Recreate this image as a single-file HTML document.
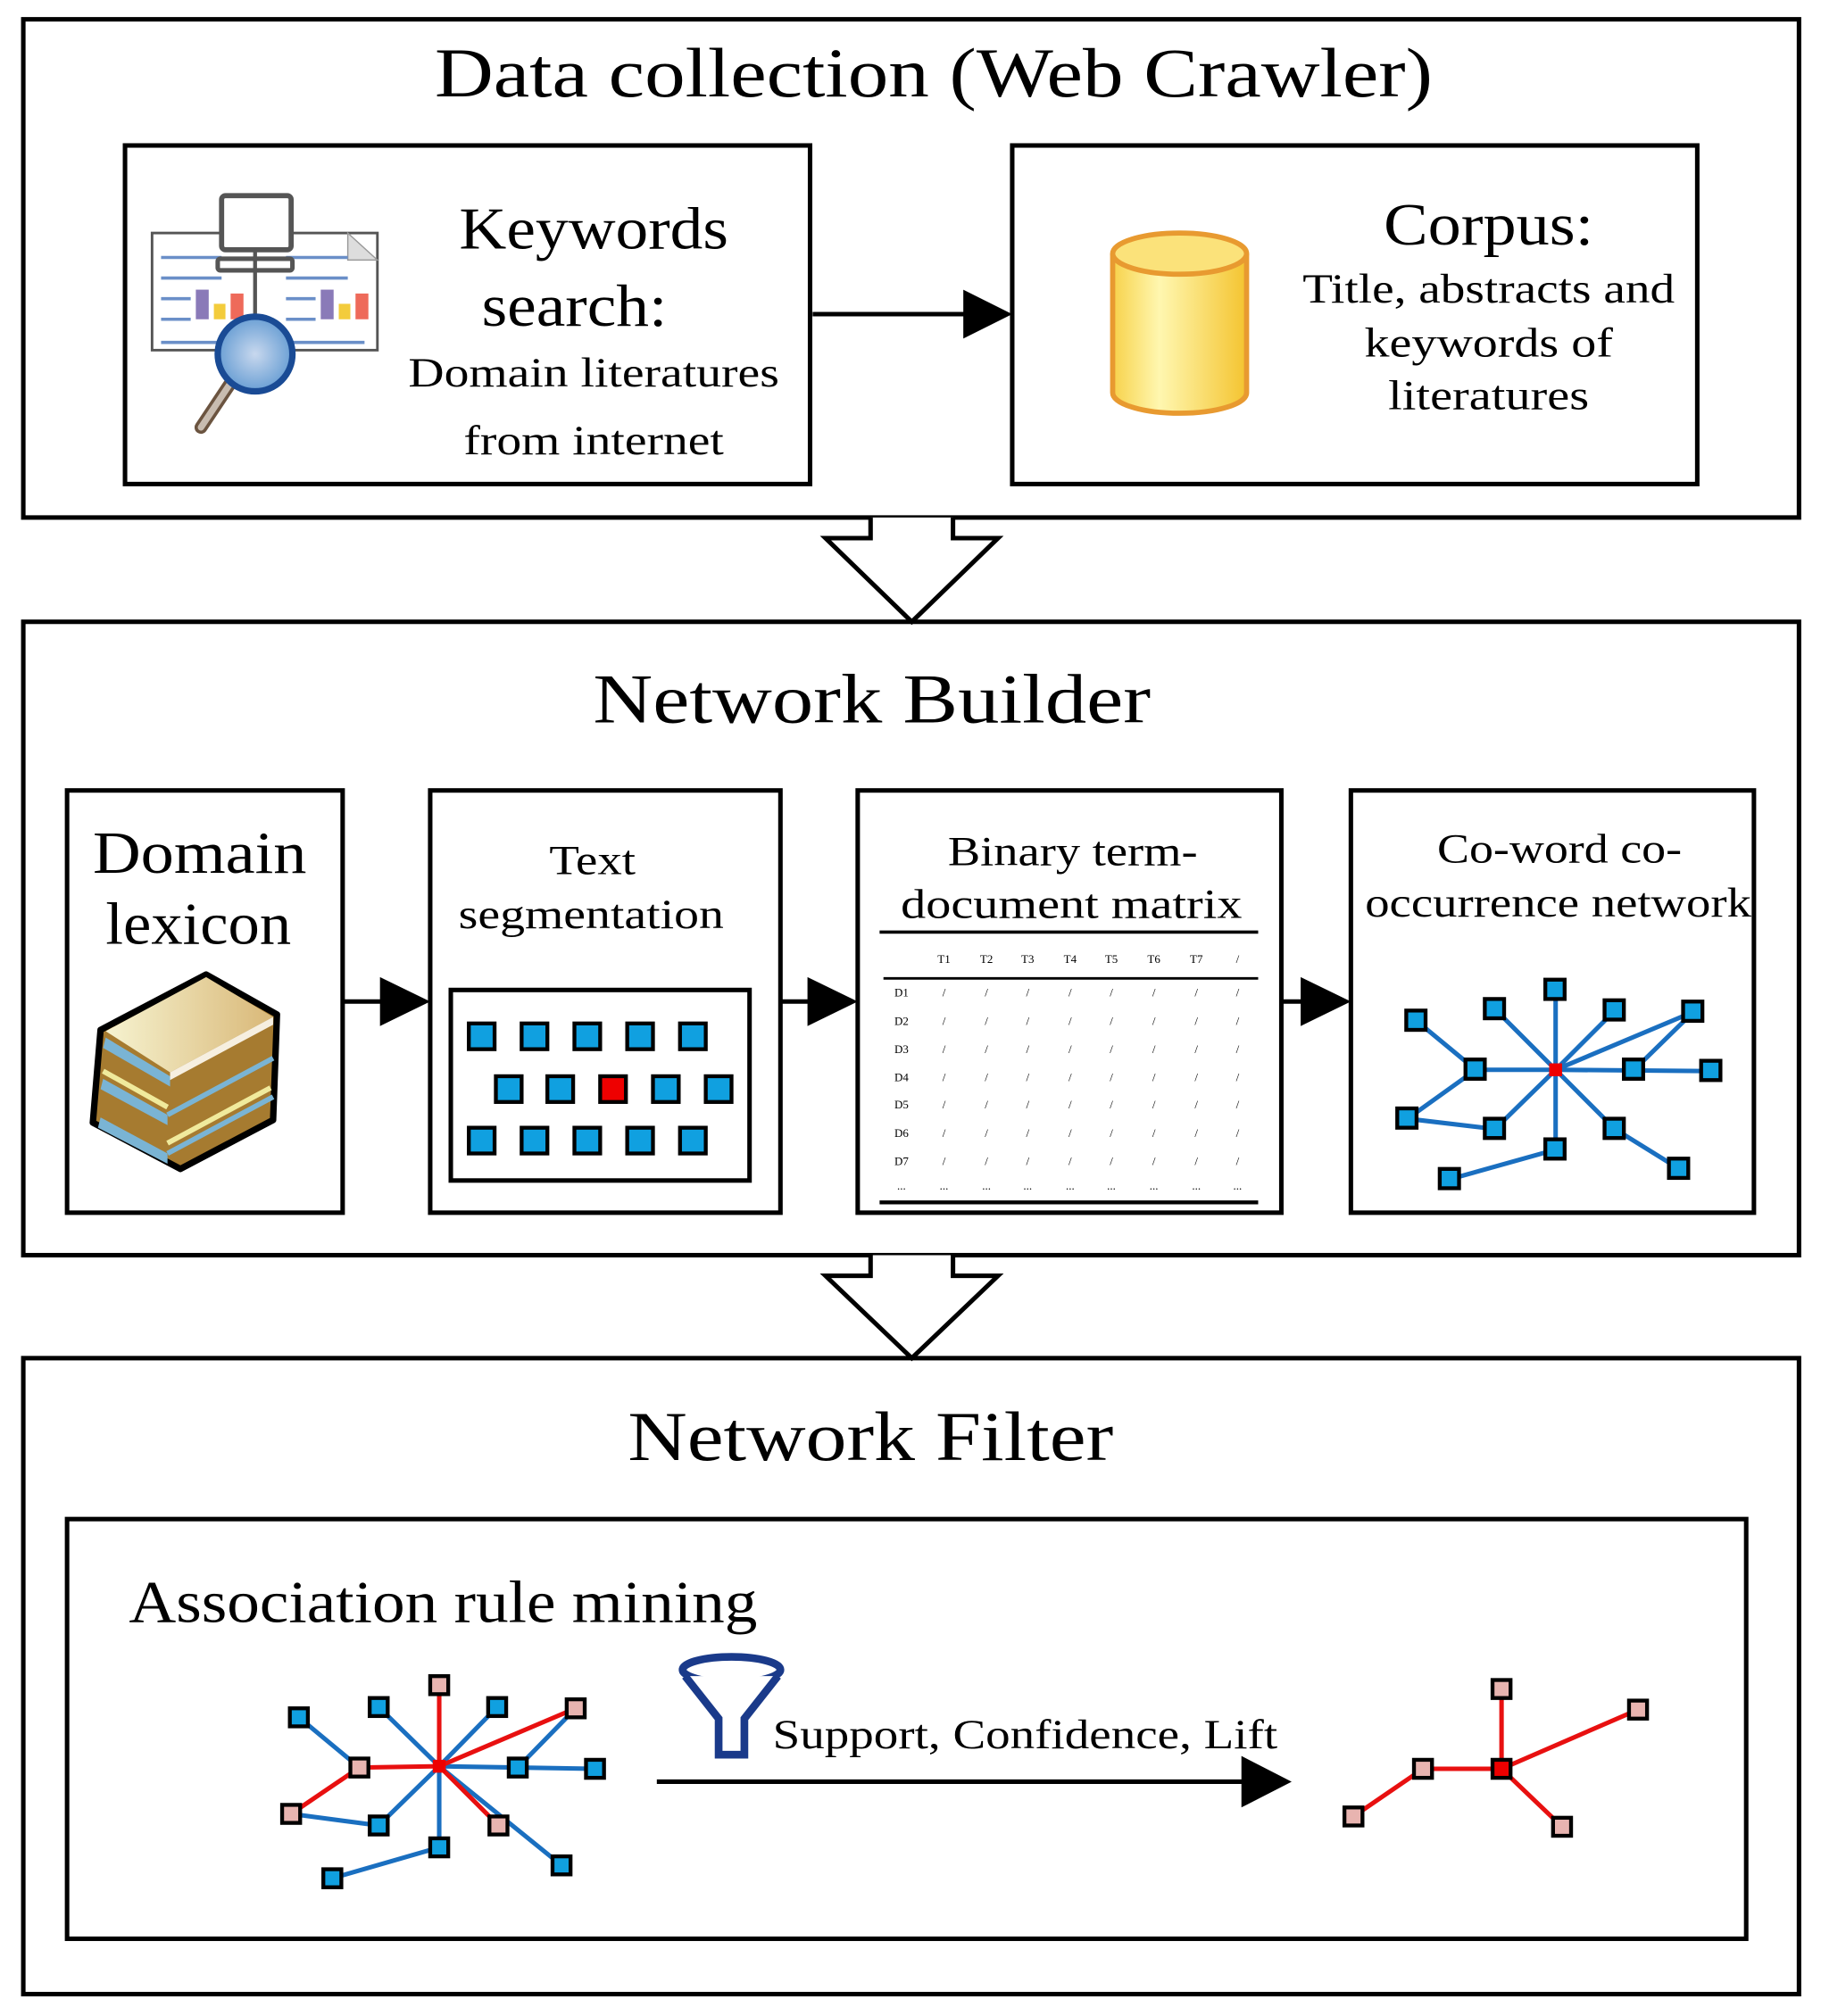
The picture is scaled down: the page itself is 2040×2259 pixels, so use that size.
<!DOCTYPE html>
<html><head><meta charset="utf-8"><style>html,body{margin:0;padding:0;background:#fff}svg{display:block}</style></head>
<body>
<svg width="2040" height="2259" viewBox="0 0 1414 1566" xmlns="http://www.w3.org/2000/svg" font-family="'Liberation Serif', serif">
<defs>
<linearGradient id="cyl" x1="0" x2="1"><stop offset="0" stop-color="#f7d24a"/><stop offset="0.35" stop-color="#fff7b0"/><stop offset="1" stop-color="#f4c430"/></linearGradient>
<linearGradient id="bk" x1="0" x2="1"><stop offset="0" stop-color="#f6f3d0"/><stop offset="1" stop-color="#d9b878"/></linearGradient>
<radialGradient id="lens"><stop offset="0" stop-color="#c8d8ee"/><stop offset="1" stop-color="#6a9fd4"/></radialGradient>
</defs>
<g fill="none" stroke="#000" stroke-width="3.5">
<rect x="18" y="15" width="1379" height="387"/>
<rect x="97" y="113" width="532" height="263"/>
<rect x="786" y="113" width="532" height="263"/>
<rect x="18" y="483" width="1379" height="492"/>
<rect x="52" y="614" width="214" height="328"/>
<rect x="334" y="614" width="272" height="328"/>
<rect x="666" y="614" width="329" height="328"/>
<rect x="1049" y="614" width="313" height="328"/>
<rect x="18" y="1055" width="1379" height="494"/>
<rect x="52" y="1180" width="1304" height="326"/>
<rect x="350" y="769" width="232" height="148"/>
</g>
<g fill="#fff" stroke="#000" stroke-width="3.5">
<path d="M676 402 V418 H641 L708 483 L775 418 H740 V402"/>
<path d="M676 975 V991 H641 L708 1055 L775 991 H740 V975"/>
</g>
<g stroke="#000" stroke-width="3.5">
<line x1="631" y1="244" x2="750" y2="244"/>
<line x1="266" y1="778" x2="298" y2="778"/>
<line x1="606" y1="778" x2="630" y2="778"/>
<line x1="995" y1="778" x2="1013" y2="778"/>
<line x1="510" y1="1384" x2="968" y2="1384"/>
</g>
<g fill="#000">
<path d="M748 225 L786 244 L748 263Z"/>
<path d="M295 759 L334 778 L295 797Z"/>
<path d="M627 759 L666 778 L627 797Z"/>
<path d="M1010 759 L1049 778 L1010 797Z"/>
<path d="M964 1364 L1003 1384 L964 1404Z"/>
</g>
<g text-anchor="middle" fill="#000" lengthAdjust="spacingAndGlyphs">
<text x="725" y="75" font-size="54" textLength="775" lengthAdjust="spacingAndGlyphs">Data collection (Web Crawler)</text>
<text x="677" y="561" font-size="54" textLength="433" lengthAdjust="spacingAndGlyphs">Network Builder</text>
<text x="676" y="1134" font-size="54" textLength="377" lengthAdjust="spacingAndGlyphs">Network Filter</text>
<text x="461" y="193" font-size="46" textLength="209" lengthAdjust="spacingAndGlyphs">Keywords</text>
<text x="446" y="253" font-size="46" textLength="144" lengthAdjust="spacingAndGlyphs">search:</text>
<text x="461" y="300" font-size="32" textLength="288" lengthAdjust="spacingAndGlyphs">Domain literatures</text>
<text x="461" y="353" font-size="32" textLength="202" lengthAdjust="spacingAndGlyphs">from internet</text>
<text x="1156" y="190" font-size="46" textLength="163" lengthAdjust="spacingAndGlyphs">Corpus:</text>
<text x="1156" y="235" font-size="32" textLength="289" lengthAdjust="spacingAndGlyphs">Title, abstracts and</text>
<text x="1156" y="277" font-size="32" textLength="193" lengthAdjust="spacingAndGlyphs">keywords of</text>
<text x="1156" y="318" font-size="32" textLength="156" lengthAdjust="spacingAndGlyphs">literatures</text>
<text x="155" y="678" font-size="46" textLength="166" lengthAdjust="spacingAndGlyphs">Domain</text>
<text x="154" y="733" font-size="46" textLength="144" lengthAdjust="spacingAndGlyphs">lexicon</text>
<text x="460" y="679" font-size="32" textLength="67" lengthAdjust="spacingAndGlyphs">Text</text>
<text x="459" y="721" font-size="32" textLength="206" lengthAdjust="spacingAndGlyphs">segmentation</text>
<text x="833" y="672" font-size="32" textLength="194" lengthAdjust="spacingAndGlyphs">Binary term-</text>
<text x="832" y="713" font-size="32" textLength="265" lengthAdjust="spacingAndGlyphs">document matrix</text>
<text x="1211" y="670" font-size="32" textLength="190" lengthAdjust="spacingAndGlyphs">Co-word co-</text>
<text x="1210" y="712" font-size="32" textLength="300" lengthAdjust="spacingAndGlyphs">occurrence network</text>
</g>
<text x="100" y="1260" font-size="46" textLength="488" lengthAdjust="spacingAndGlyphs">Association rule mining</text>
<text x="600" y="1358" font-size="32" textLength="392" lengthAdjust="spacingAndGlyphs">Support, Confidence, Lift</text>
<g>
<rect x="118" y="181" width="175" height="91" fill="#fff" stroke="#555" stroke-width="2"/>
<path d="M270 181 L293 202 H270Z" fill="#ddd" stroke="#999"/>
<g stroke="#6a8fc8" stroke-width="2.5">
<line x1="125" y1="200" x2="172" y2="200"/><line x1="125" y1="216" x2="172" y2="216"/><line x1="125" y1="232" x2="148" y2="232"/><line x1="125" y1="248" x2="148" y2="248"/><line x1="125" y1="266" x2="172" y2="266"/>
<line x1="222" y1="200" x2="270" y2="200"/><line x1="222" y1="216" x2="270" y2="216"/><line x1="222" y1="232" x2="245" y2="232"/><line x1="222" y1="248" x2="245" y2="248"/><line x1="222" y1="266" x2="283" y2="266"/>
</g>
<rect x="152" y="225" width="10" height="23" fill="#8a7ab8"/><rect x="166" y="236" width="9" height="12" fill="#f3cc3c"/><rect x="179" y="228" width="10" height="20" fill="#ee6a5a"/>
<rect x="249" y="225" width="10" height="23" fill="#8a7ab8"/><rect x="263" y="236" width="9" height="12" fill="#f3cc3c"/><rect x="276" y="228" width="10" height="20" fill="#ee6a5a"/>
<rect x="172" y="152" width="54" height="42" rx="3" fill="#fff" stroke="#555" stroke-width="4"/>
<rect x="169" y="201" width="58" height="9" rx="2" fill="#fff" stroke="#555" stroke-width="3.5"/>
<line x1="198" y1="194" x2="198" y2="250" stroke="#555" stroke-width="3"/>
<line x1="184" y1="290" x2="156" y2="332" stroke="#6b5440" stroke-width="10" stroke-linecap="round"/>
<line x1="184" y1="290" x2="156" y2="332" stroke="#c8bcb0" stroke-width="5" stroke-linecap="round"/>
<circle cx="198" cy="275" r="29" fill="url(#lens)" stroke="#1a4b95" stroke-width="5"/>
</g>
<g stroke="#e89a30" stroke-width="4">
<path d="M864 197 V305 A52 16 0 0 0 968 305 V197" fill="url(#cyl)"/>
<ellipse cx="916" cy="197" rx="52" ry="16" fill="#fbe27a"/>
</g>
<!-- books: three stacked -->
<g stroke="#000" stroke-width="5" stroke-linejoin="round">
<path d="M78 800 L160 757 L215 788 L212 870 L140 908 L72 872 Z" fill="#a67b30"/>
</g>
<path d="M82 801 L160 759 L212 790 L132 833 Z" fill="url(#bk)"/>
<path d="M132 833 L212 790 L212 796 L132 839Z" fill="#f6efe0"/>
<path d="M82 806 L132 836 L132 844 L80 814Z" fill="#7ab4d4"/>
<path d="M80 838 L130 866 L130 874 L78 846Z" fill="#7ab4d4"/>
<path d="M78 868 L130 896 L130 904 L76 876Z" fill="#7ab4d4"/>
<path d="M130 866 L212 822 M130 896 L212 852" stroke="#7ab4d4" stroke-width="4" fill="none"/>
<path d="M80 832 L130 860 M130 888 L210 845" stroke="#f0ea9c" stroke-width="4" fill="none"/>
<g stroke="#000" stroke-width="3" fill="#10a0e0">
<rect x="364" y="795" width="20" height="20"/><rect x="405" y="795" width="20" height="20"/><rect x="446" y="795" width="20" height="20"/><rect x="487" y="795" width="20" height="20"/><rect x="528" y="795" width="20" height="20"/>
<rect x="385" y="836" width="20" height="20"/><rect x="425" y="836" width="20" height="20"/><rect x="466" y="836" width="20" height="20" fill="#e00"/><rect x="507" y="836" width="20" height="20"/><rect x="548" y="836" width="20" height="20"/>
<rect x="364" y="876" width="20" height="20"/><rect x="405" y="876" width="20" height="20"/><rect x="446" y="876" width="20" height="20"/><rect x="487" y="876" width="20" height="20"/><rect x="528" y="876" width="20" height="20"/>
</g>
<g stroke="#000">
<line x1="683" y1="724" x2="977" y2="724" stroke-width="2.5"/>
<line x1="686" y1="760" x2="977" y2="760" stroke-width="2"/>
<line x1="683" y1="934" x2="977" y2="934" stroke-width="3"/>
</g>
<g font-size="9" text-anchor="middle" fill="#000">
<text x="733" y="748">T1</text><text x="766" y="748">T2</text><text x="798" y="748">T3</text><text x="831" y="748">T4</text><text x="863" y="748">T5</text><text x="896" y="748">T6</text><text x="929" y="748">T7</text><text x="961" y="748">/</text>
<g id="r1"><text x="733" y="774">/</text><text x="766" y="774">/</text><text x="798" y="774">/</text><text x="831" y="774">/</text><text x="863" y="774">/</text><text x="896" y="774">/</text><text x="929" y="774">/</text><text x="961" y="774">/</text></g>
<use href="#r1" y="22"/><use href="#r1" y="44"/><use href="#r1" y="66"/><use href="#r1" y="87"/><use href="#r1" y="109"/><use href="#r1" y="131"/>
<text x="700" y="774">D1</text><text x="700" y="796">D2</text><text x="700" y="818">D3</text><text x="700" y="840">D4</text><text x="700" y="861">D5</text><text x="700" y="883">D6</text><text x="700" y="905">D7</text>
<text x="700" y="924">...</text><text x="733" y="924">...</text><text x="766" y="924">...</text><text x="798" y="924">...</text><text x="831" y="924">...</text><text x="863" y="924">...</text><text x="896" y="924">...</text><text x="929" y="924">...</text><text x="961" y="924">...</text>
</g>
<g stroke="#1a6fc0" stroke-width="3.5">
<line x1="1208" y1="831" x2="1146" y2="831"/><line x1="1208" y1="831" x2="1161" y2="784"/><line x1="1208" y1="831" x2="1208" y2="769"/><line x1="1208" y1="831" x2="1254" y2="785"/><line x1="1208" y1="831" x2="1315" y2="786"/><line x1="1208" y1="831" x2="1329" y2="832"/><line x1="1208" y1="831" x2="1161" y2="877"/><line x1="1208" y1="831" x2="1208" y2="893"/><line x1="1208" y1="831" x2="1254" y2="877"/><line x1="1254" y1="877" x2="1304" y2="908"/>
<line x1="1146" y1="831" x2="1100" y2="793"/><line x1="1146" y1="831" x2="1093" y2="869"/><line x1="1093" y1="869" x2="1161" y2="877"/><line x1="1269" y1="831" x2="1315" y2="786"/><line x1="1126" y1="916" x2="1208" y2="893"/>
</g>
<g stroke="#000" stroke-width="3" fill="#10a0e0">
<rect x="1092" y="785" width="15" height="15"/><rect x="1153" y="776" width="15" height="15"/><rect x="1200" y="761" width="15" height="15"/><rect x="1246" y="777" width="15" height="15"/><rect x="1307" y="778" width="15" height="15"/><rect x="1138" y="823" width="15" height="15"/><rect x="1261" y="823" width="15" height="15"/><rect x="1321" y="824" width="15" height="15"/><rect x="1085" y="861" width="15" height="15"/><rect x="1153" y="869" width="15" height="15"/><rect x="1200" y="885" width="15" height="15"/><rect x="1246" y="869" width="15" height="15"/><rect x="1296" y="900" width="15" height="15"/><rect x="1118" y="908" width="15" height="15"/>
</g>
<rect x="1203" y="826" width="10" height="10" fill="#e00"/>
<g stroke-width="3.5">
<g stroke="#1a6fc0">
<line x1="341" y1="1372" x2="294" y2="1326"/><line x1="341" y1="1372" x2="386" y2="1326"/><line x1="341" y1="1372" x2="462" y2="1374"/><line x1="341" y1="1372" x2="294" y2="1418"/><line x1="341" y1="1372" x2="341" y2="1435"/><line x1="341" y1="1372" x2="436" y2="1449"/>
<line x1="232" y1="1334" x2="279" y2="1373"/><line x1="226" y1="1409" x2="294" y2="1418"/><line x1="258" y1="1459" x2="341" y2="1435"/><line x1="402" y1="1373" x2="447" y2="1327"/>
</g>
<g stroke="#e81010">
<line x1="341" y1="1372" x2="341" y2="1309"/><line x1="341" y1="1372" x2="447" y2="1327"/><line x1="341" y1="1372" x2="279" y2="1373"/><line x1="279" y1="1373" x2="226" y2="1409"/><line x1="341" y1="1372" x2="387" y2="1418"/>
</g>
</g>
<g stroke="#000" stroke-width="3" fill="#10a0e0">
<rect x="225" y="1327" width="14" height="14"/><rect x="287" y="1319" width="14" height="14"/><rect x="379" y="1319" width="14" height="14"/><rect x="395" y="1366" width="14" height="14"/><rect x="455" y="1367" width="14" height="14"/><rect x="287" y="1411" width="14" height="14"/><rect x="334" y="1428" width="14" height="14"/><rect x="251" y="1452" width="14" height="14"/><rect x="429" y="1442" width="14" height="14"/>
</g>
<g stroke="#000" stroke-width="3" fill="#e8b4b0">
<rect x="334" y="1302" width="14" height="14"/><rect x="440" y="1320" width="14" height="14"/><rect x="272" y="1366" width="14" height="14"/><rect x="219" y="1402" width="14" height="14"/><rect x="380" y="1411" width="14" height="14"/>
</g>
<rect x="336" y="1367" width="10" height="10" fill="#e00"/>
<g stroke="#1a3a8a" stroke-width="6" fill="#fff">
<ellipse cx="568" cy="1297" rx="38" ry="10"/>
<path d="M532 1302 L558 1335 V1363 H578 V1335 L604 1302" />
</g>
<g stroke="#e81010" stroke-width="3.5">
<line x1="1166" y1="1374" x2="1166" y2="1312"/><line x1="1166" y1="1374" x2="1272" y2="1328"/><line x1="1166" y1="1374" x2="1105" y2="1374"/><line x1="1105" y1="1374" x2="1051" y2="1411"/><line x1="1166" y1="1374" x2="1213" y2="1419"/>
</g>
<g stroke="#000" stroke-width="3" fill="#e8b4b0">
<rect x="1159" y="1305" width="14" height="14"/><rect x="1265" y="1321" width="14" height="14"/><rect x="1098" y="1367" width="14" height="14"/><rect x="1044" y="1404" width="14" height="14"/><rect x="1206" y="1412" width="14" height="14"/><rect x="1159" y="1367" width="14" height="14" fill="#e00"/>
</g>
</svg>
</body></html>
